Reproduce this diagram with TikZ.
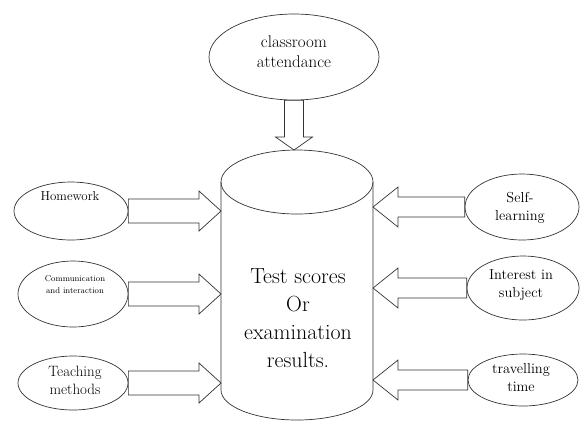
\documentclass[tikz,border=0pt]{standalone}
\usetikzlibrary{shapes.geometric,calc}
\newcommand\leftblock[2]{%
  \draw[barrow] ($(#1.east)+(0,-12)$) -- ($(#1.east -| #2)+(-22,-12)$) -- ($(#1.east -| #2)+(-22,-20)$)
    -- (#1.east -| #2) -- ($(#1.east -| #2)+(-22,20)$) -- ($(#1.east -| #2)+(-22,12)$) -- ($(#1.east)+(0,12)$) -- cycle;}
\newcommand\rightblock[2]{%
  \draw[barrow] ($(#1.west)+(0,-10)$) -- ($(#1.west -| #2)+(25,-10)$) -- ($(#1.west -| #2)+(25,-20)$)
    -- (#1.west -| #2) -- ($(#1.west -| #2)+(25,20)$) -- ($(#1.west -| #2)+(25,10)$) -- ($(#1.west)+(0,10)$) -- cycle;}
\begin{document}
\begin{tikzpicture}[x=1bp,y=-1bp,line width=0.7bp,
  oval/.style={draw=black!80, ellipse, inner sep=0pt},
  lbl/.style={align=center, font=\fontsize{14.5}{18}\selectfont, inner sep=0pt, text=black},
  barrow/.style={draw=black!80, fill=white, line join=miter}]
\useasboundingbox (0,0) rectangle (581,420);
% ellipses
\node[oval, minimum width=170bp, minimum height=86bp] (ca) at (294,57) {};
\node[oval, minimum width=114bp, minimum height=58bp] (hw) at (71,211) {};
\node[oval, minimum width=110bp, minimum height=66bp] (ci) at (73,294) {};
\node[oval, minimum width=110bp, minimum height=54bp] (tm) at (73,383) {};
\node[oval, minimum width=114bp, minimum height=66bp] (sl) at (522,207) {};
\node[oval, minimum width=112bp, minimum height=64bp] (is) at (523,288) {};
\node[oval, minimum width=110bp, minimum height=52bp] (tt) at (523,380) {};
% cylinder
\coordinate (ctop) at (297,182);
\coordinate (ctp) at (297,150);
\coordinate (cl) at (221,182);
\coordinate (cr) at (373,182);
\draw[draw=black!80] (ctop) ellipse [x radius=76, y radius=32];
\draw[draw=black!80] (cl) -- (221,390) arc[start angle=180, end angle=0, x radius=76, y radius=30] -- (cr);
% down arrow
\draw[barrow] ($(ca.south)+(-9.5,0)$) -- ($(ca.south |- ctp)+(-9.5,-13)$) -- ($(ca.south |- ctp)+(-18.5,-13)$)
  -- (ca.south |- ctp) -- ($(ca.south |- ctp)+(18.5,-13)$) -- ($(ca.south |- ctp)+(9.5,-13)$) -- ($(ca.south)+(9.5,0)$) -- cycle;
% side arrows
\leftblock{hw}{cl}
\leftblock{ci}{cl}
\leftblock{tm}{cl}
\rightblock{sl}{cr}
\rightblock{is}{cr}
\rightblock{tt}{cr}
% texts
\node[lbl, font=\fontsize{17}{20}\selectfont] (cat) at (294,52) {classroom\\attendance};
\node[lbl, font=\fontsize{13}{16}\selectfont] (hwt) at (70,196) {Homework};
\node[lbl, font=\fontsize{8.5}{12}\selectfont] (cit) at (75,285) {Communication\\and interaction};
\node[lbl, font=\fontsize{15}{18}\selectfont] (tmt) at (75,380) {Teaching\\methods};
\node[lbl] (slt) at (520,208) {Self-\\learning};
\node[lbl] (ist) at (521,285) {Interest in\\subject};
\node[lbl] (ttt) at (521,378) {travelling\\time};
\node[lbl, font=\fontsize{22}{28}\selectfont] (res) at (298,318) {Test scores\\Or\\examination\\results.};
\end{tikzpicture}
\end{document}
